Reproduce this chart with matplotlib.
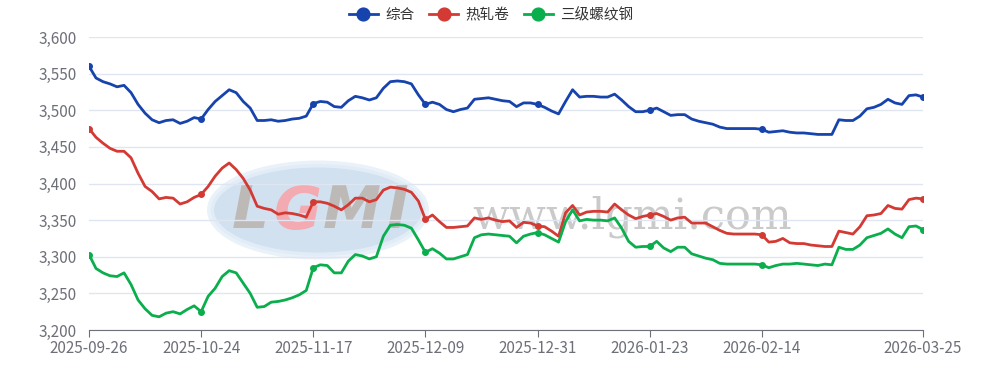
import numpy as np
import pandas as pd
import matplotlib.pyplot as plt
from matplotlib.patches import Ellipse

plt.rcParams['font.family'] = ['Noto Sans CJK SC', 'DejaVu Sans']

# trading days (China calendar, incl. make-up Saturdays/Sundays)
holidays = (list(pd.date_range('2025-10-01', '2025-10-08'))
            + list(pd.date_range('2026-01-01', '2026-01-03'))
            + list(pd.date_range('2026-02-15', '2026-02-23')))
makeup_days = pd.to_datetime(['2025-09-28', '2025-10-11', '2026-01-04',
                              '2026-02-14', '2026-02-28'])
all_days = pd.date_range('2025-09-26', '2026-03-25')
dates = [d for d in all_days
         if (d.weekday() < 5 or d in makeup_days) and d not in holidays]
date_labels = [d.strftime('%Y-%m-%d') for d in dates]

series_names = ['综合', '热轧卷', '三级螺纹钢']

composite = [
    3560, 3544, 3539, 3536, 3532, 3534, 3524, 3508, 3496, 3487,
    3483, 3486, 3487, 3482, 3485, 3490, 3488, 3501, 3512, 3520,
    3528, 3524, 3512, 3503, 3486, 3486, 3487, 3485, 3486, 3488,
    3489, 3492, 3509, 3512, 3511, 3505, 3504, 3513, 3519, 3517,
    3514, 3517, 3530, 3539, 3540, 3539, 3536, 3521, 3508, 3511,
    3508, 3501, 3498, 3501, 3503, 3515, 3516, 3517, 3515, 3513,
    3512, 3505, 3510, 3510, 3508, 3504, 3499, 3495, 3512, 3528,
    3518, 3519, 3519, 3518, 3518, 3522, 3514, 3505, 3498, 3498,
    3500, 3503, 3498, 3493, 3494, 3494, 3488, 3485, 3483, 3481,
    3477, 3475, 3475, 3475, 3475, 3475, 3474, 3470, 3471, 3472,
    3470, 3469, 3469, 3468, 3467, 3467, 3467, 3487, 3486, 3486,
    3492, 3502, 3504, 3508, 3515, 3510, 3508, 3520, 3521, 3518,
]

hot_rolled = [
    3475, 3463, 3455, 3448, 3444, 3444, 3435, 3414, 3396, 3389,
    3379, 3381, 3380, 3372, 3375, 3381, 3385, 3396, 3410, 3421,
    3428, 3419, 3407, 3391, 3369, 3366, 3364, 3358, 3360, 3359,
    3357, 3354, 3375, 3375, 3373, 3369, 3364, 3371, 3380, 3380,
    3375, 3378, 3391, 3395, 3394, 3392, 3388, 3376, 3351, 3357,
    3348, 3340, 3340, 3341, 3342, 3353, 3351, 3353, 3350, 3348,
    3349, 3340, 3347, 3346, 3342, 3341, 3335, 3328, 3360, 3370,
    3357, 3361, 3362, 3362, 3361, 3372, 3364, 3357, 3352, 3355,
    3357, 3359, 3355, 3350, 3353, 3354, 3346, 3346, 3346, 3341,
    3336, 3332, 3331, 3331, 3331, 3331, 3330, 3320, 3321, 3325,
    3319, 3318, 3318, 3316, 3315, 3314, 3314, 3335, 3333, 3331,
    3341, 3356, 3357, 3359, 3370, 3366, 3365, 3378, 3380, 3379,
]

rebar = [
    3303, 3284, 3278, 3274, 3273, 3278, 3262, 3241, 3229, 3220,
    3218, 3223, 3225, 3222, 3228, 3233, 3225, 3246, 3257, 3273,
    3281, 3278, 3264, 3250, 3231, 3232, 3238, 3239, 3241, 3244,
    3248, 3254, 3285, 3289, 3288, 3278, 3278, 3294, 3303, 3301,
    3297, 3300, 3328, 3343, 3344, 3343, 3339, 3323, 3306, 3311,
    3305, 3297, 3297, 3300, 3303, 3326, 3330, 3331, 3330, 3329,
    3328, 3319, 3328, 3331, 3333, 3330, 3325, 3320, 3348, 3364,
    3349, 3351, 3350, 3350, 3349, 3353, 3339, 3321, 3313, 3314,
    3314, 3321, 3312, 3307, 3313, 3313, 3304, 3301, 3298, 3296,
    3291, 3290, 3290, 3290, 3290, 3290, 3289, 3285, 3288, 3290,
    3290, 3291, 3290, 3289, 3288, 3290, 3289, 3313, 3310, 3310,
    3316, 3326, 3329, 3332, 3338, 3331, 3326, 3341, 3342, 3337,
]

colors = ['#1743ad', '#d43a34', '#0aae4c']
axis_gray = '#6e7079'
grid_color = '#e0e6f1'

fig = plt.figure(figsize=(9.92, 3.70), dpi=100)
ax = fig.add_axes([89 / 992, 1 - 330 / 370, (923 - 89) / 992, (330 - 37) / 370])
ax.set_zorder(2)
ax.set_facecolor('none')

# watermark (behind the plot)
wm = Ellipse((318 / 992, 1 - 210 / 370), 215 / 992, 92 / 370, transform=fig.transFigure,
             facecolor='#c9dcee', edgecolor='#e6eff8', lw=5, alpha=0.85, zorder=0)
fig.patches.append(wm)
for ch, xp, c in [('L', 250, '#bdb9b6'), ('G', 298, '#f3aab0'), ('M', 352, '#bdb9b6'), ('I', 398, '#bdb9b6')]:
    fig.text(xp / 992, 1 - 212 / 370, ch, fontsize=42, fontweight='bold', style='italic',
             family='DejaVu Sans', color=c, ha='center', va='center', zorder=0.5)
fig.text(632 / 992, 1 - 228 / 370, 'www.lgmi.com', fontsize=31, family='DejaVu Serif',
         color='#cacaca', ha='center', va='baseline', zorder=0.5)

x = np.arange(len(dates))
marks = list(range(0, len(dates) - 8, 16)) + [len(dates) - 1]
for vals, name, c in zip([composite, hot_rolled, rebar], series_names, colors):
    ax.plot(x, vals, color=c, lw=2, label=name, marker='o', markersize=4,
            markevery=marks, solid_joinstyle='round', zorder=3)

ax.set_xlim(0, len(dates) - 1)
ax.set_ylim(3200, 3600)
ax.set_yticks(np.arange(3200, 3601, 50))
ax.set_yticklabels([f'{v:,}' for v in range(3200, 3601, 50)])
ax.grid(axis='y', color=grid_color, lw=1)
ax.set_axisbelow(True)

tick_idx = list(range(0, len(dates) - 8, 16)) + [len(dates) - 1]
ax.set_xticks(tick_idx)
ax.set_xticklabels([date_labels[i] for i in tick_idx])

for s in ['left', 'right', 'top']:
    ax.spines[s].set_visible(False)
ax.spines['bottom'].set_color(axis_gray)
ax.tick_params(axis='y', length=0, pad=9, labelsize=11, labelcolor=axis_gray)
ax.tick_params(axis='x', length=5, color=axis_gray, pad=2, labelsize=11, labelcolor=axis_gray)

fig.legend(loc='upper center', bbox_to_anchor=(0.495, 1.015), ncol=3, frameon=False,
           fontsize=10.5, labelcolor='#333333', handlelength=2.0, markerscale=2.3,
           columnspacing=1.0, handletextpad=0.5)

plt.savefig('out.png', dpi=100)
